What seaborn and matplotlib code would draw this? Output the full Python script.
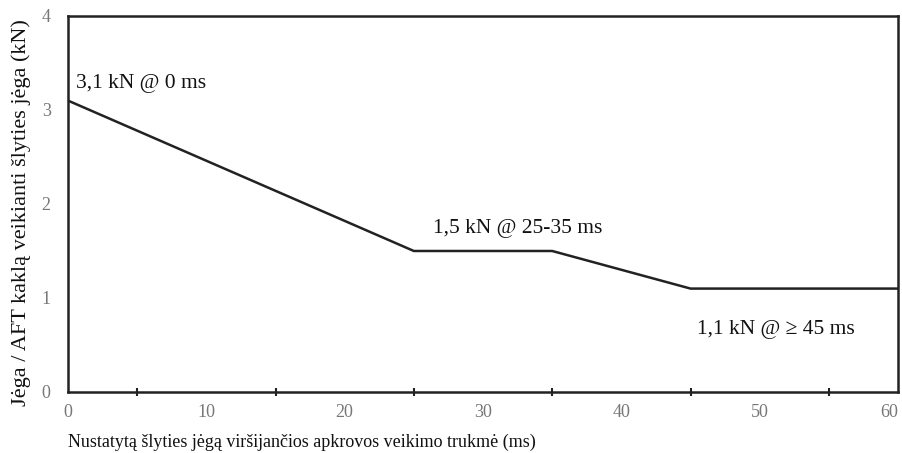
import matplotlib
matplotlib.use("Agg")
import matplotlib.pyplot as plt
import seaborn as sns
import pandas as pd

# Shear force limit vs. load duration
duration_ms = [0, 25, 35, 45, 60]
force_kN = [3.1, 1.5, 1.5, 1.1, 1.1]

x_ticks = [0, 10, 20, 30, 40, 50, 60]
y_ticks = [0, 1, 2, 3, 4]

labels = ["3,1 kN @ 0 ms", "1,5 kN @ 25-35 ms", "1,1 kN @ \u2265 45 ms"]
label_x = [0.6, 26.4, 45.5]
label_y = [3.28, 1.74, 0.67]

x_title = "Nustatytą šlyties jėgą viršijančios apkrovos veikimo trukmė (ms)"
y_title = "Jėga / AFT kaklą veikianti šlyties jėga (kN)"

sns.set_theme(style="white")
plt.rcParams["font.family"] = ["Liberation Serif", "DejaVu Serif"]

df = pd.DataFrame({"t": duration_ms, "F": force_kN})

fig = plt.figure(figsize=(9.03, 4.53), dpi=100)
ax = fig.add_axes([0.0753, 0.1347, 0.9192, 0.83])

sns.lineplot(data=df, x="t", y="F", ax=ax, color="#222222", linewidth=1.8)

ax.set_xlim(0, 60)
ax.set_ylim(0, 4)
ax.set_xticks(x_ticks)
ax.set_yticks(y_ticks)
ax.set_xticks([5, 15, 25, 35, 45, 55], minor=True)

for s in ax.spines.values():
    s.set_visible(True)
    s.set_color("#222222")
    s.set_linewidth(1.8)

ax.tick_params(axis="both", which="major", direction="inout", length=7, width=1.5,
               color="#222222", labelcolor="#777777", labelsize=13)
ax.tick_params(axis="x", which="minor", direction="inout", length=6, width=1.5,
               color="#222222", bottom=True)
ax.tick_params(axis="x", which="major", pad=5)
ax.tick_params(axis="y", which="major", pad=9)

# keep the last x tick label inside the figure
xlabels = ax.get_xticklabels()
xlabels[-1].set_horizontalalignment("right")

for txt, tx, ty in zip(labels, label_x, label_y):
    ax.text(tx, ty, txt, fontsize=15.5, color="#111111", va="center", ha="left")

ax.set_xlabel(x_title, fontsize=13, color="#111111")
ax.xaxis.set_label_coords(0.0, -0.11)
ax.xaxis.label.set_horizontalalignment("left")
ax.set_ylabel(y_title, fontsize=16, color="#111111")
ax.yaxis.set_label_coords(-0.044, 0.476)

fig.savefig("out.png", dpi=100, facecolor="white")
